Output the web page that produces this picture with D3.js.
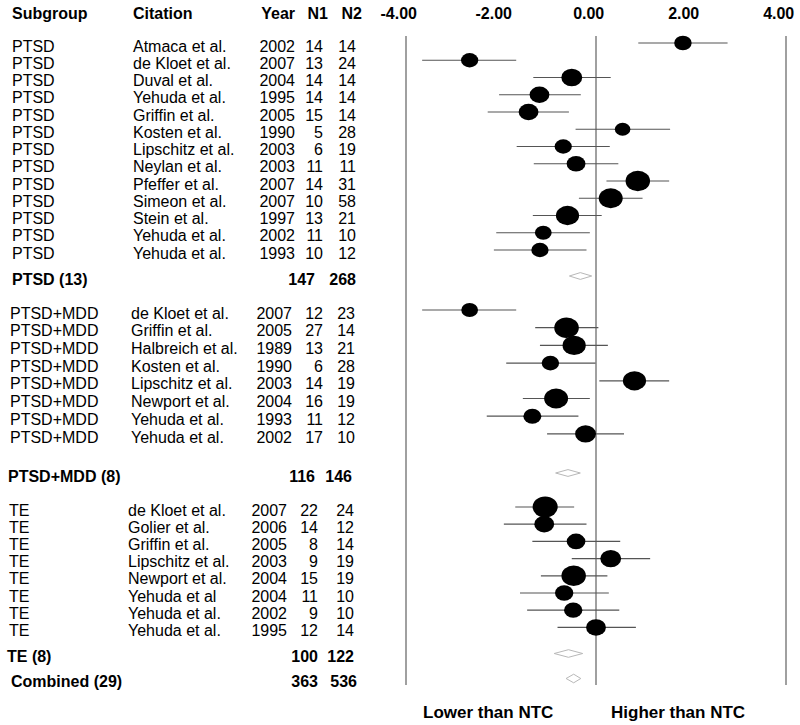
<!DOCTYPE html>
<html>
<head>
<meta charset="utf-8">
<script src="https://cdn.jsdelivr.net/npm/d3@7/dist/d3.min.js"></script>
<style>
  html, body { margin: 0; padding: 0; background: #fff; }
  svg { display: block; font-family: "Liberation Sans", Arial, sans-serif; }
</style>
</head>
<body>
<svg id="chart" width="800" height="725"></svg>
<script>
// ---------------- DATA ----------------
const headers = ["Subgroup", "Citation", "Year", "N1", "N2"];
const groupNames = ["PTSD", "PTSD+MDD", "TE"];

// study rows (grouped in order)
const subgroup = [
  "PTSD","PTSD","PTSD","PTSD","PTSD","PTSD","PTSD","PTSD","PTSD","PTSD","PTSD","PTSD","PTSD",
  "PTSD+MDD","PTSD+MDD","PTSD+MDD","PTSD+MDD","PTSD+MDD","PTSD+MDD","PTSD+MDD","PTSD+MDD",
  "TE","TE","TE","TE","TE","TE","TE","TE"
];
const citation = [
  "Atmaca et al.","de Kloet et al.","Duval et al.","Yehuda et al.","Griffin et al.","Kosten et al.",
  "Lipschitz et al.","Neylan et al.","Pfeffer et al.","Simeon et al.","Stein et al.","Yehuda et al.","Yehuda et al.",
  "de Kloet et al.","Griffin et al.","Halbreich et al.","Kosten et al.","Lipschitz et al.","Newport et al.","Yehuda et al.","Yehuda et al.",
  "de Kloet et al.","Golier et al.","Griffin et al.","Lipschitz et al.","Newport et al.","Yehuda et al","Yehuda et al.","Yehuda et al."
];
const year = [
  2002,2007,2004,1995,2005,1990,2003,2003,2007,2007,1997,2002,1993,
  2007,2005,1989,1990,2003,2004,1993,2002,
  2007,2006,2005,2003,2004,2004,2002,1995
];
const n1 = [14,13,14,14,15,5,6,11,14,10,13,11,10, 12,27,13,6,14,16,11,17, 22,14,8,9,15,11,9,12];
const n2 = [14,24,14,14,14,28,19,11,31,58,21,10,12, 23,14,21,28,19,19,12,10, 24,12,14,19,19,10,10,14];

// standardized effect (hedges g) and 95% CI
const effect = [1.83,-2.66,-0.51,-1.19,-1.42,0.56,-0.69,-0.42,0.88,0.31,-0.60,-1.11,-1.18,
  -2.66,-0.62,-0.46,-0.96,0.81,-0.84,-1.34,-0.22,
  -1.07,-1.09,-0.42,0.31,-0.47,-0.67,-0.48,0.00];
const ciLow = [0.89,-3.66,-1.32,-2.04,-2.28,-0.43,-1.67,-1.31,0.22,-0.36,-1.33,-2.10,-2.15,
  -3.66,-1.28,-1.18,-1.89,0.07,-1.54,-2.30,-1.03,
  -1.70,-1.94,-1.34,-0.51,-1.16,-1.60,-1.45,-0.81];
const ciHigh = [2.77,-1.68,0.31,-0.32,-0.57,1.56,0.29,0.47,1.54,0.98,0.12,-0.13,-0.20,
  -1.68,0.05,0.25,-0.01,1.54,-0.13,-0.37,0.59,
  -0.46,-0.20,0.51,1.14,0.24,0.27,0.49,0.84];
// relative study weights (marker area)
const weight = [4.9,4.8,7.0,6.3,6.3,3.9,4.8,5.7,9.6,9.2,8.6,4.5,4.8,
  4.5,9.7,8.6,4.9,8.6,9.2,5.2,7.0,
  10.1,6.3,5.6,7.0,9.6,5.4,5.4,6.3];

// summary rows
const summaryLabel = ["PTSD (13)", "PTSD+MDD (8)", "TE (8)", "Combined (29)"];
const summaryN1 = [147, 116, 100, 363];
const summaryN2 = [268, 146, 122, 536];
const summaryEst = [-0.33, -0.59, -0.58, -0.47];
const summaryLow = [-0.56, -0.85, -0.88, -0.63];
const summaryHigh = [-0.09, -0.33, -0.28, -0.32];

const tickValues = [-4, -2, 0, 2, 4];
const tickLabels = ["-4.00", "-2.00", "0.00", "2.00", "4.00"];
const refLines = [-4, 0, 4];
const footLabels = ["Lower than NTC", "Higher than NTC"];

// ---------------- LAYOUT ----------------
const svg = d3.select("#chart");
const x = d3.scaleLinear().domain([-4, 4]).range([406, 786]);
const size = d3.scaleSqrt().domain([0, 10]).range([0, 10.4]);

// vertical layout per group: start y, row step
const groupLayout = {
  "PTSD":     { y0: 43,  step: 17.25, sub: 12, cit: 133, yr: 295, a: 323, b: 356 },
  "PTSD+MDD": { y0: 310, step: 17.7,  sub: 10, cit: 131, yr: 292, a: 323, b: 355 },
  "TE":       { y0: 507, step: 17.2,  sub: 9,  cit: 128, yr: 287, a: 318, b: 354 }
};
const summaryLayout = [
  { y: 276,   lx: 12, a: 315, b: 356, h: 3.4 },
  { y: 473,   lx: 8,  a: 315, b: 352, h: 3.4 },
  { y: 653.5, lx: 7,  a: 318, b: 354, h: 3.8 },
  { y: 678.5, lx: 11, a: 318, b: 357, h: 4.3 }
];

const rows = subgroup.map((g, i) => {
  const idx = subgroup.slice(0, i).filter(s => s === g).length;
  const L = groupLayout[g];
  return { i, g, L, y: L.y0 + idx * L.step };
});

const fontSize = 16;
const textDy = 3;

// header
const hdr = svg.append("g").attr("font-weight", "bold").attr("font-size", fontSize);
const hdrPos = [{ x: 12, a: "start" }, { x: 133, a: "start" }, { x: 295, a: "end" }, { x: 328, a: "end" }, { x: 362, a: "end" }];
hdr.selectAll("text").data(headers).join("text")
  .attr("x", (d, i) => hdrPos[i].x).attr("y", 19)
  .attr("text-anchor", (d, i) => hdrPos[i].a)
  .text(d => d);

// axis tick labels
const axisG = svg.append("g");
axisG.selectAll("text").data(tickValues).join("text")
  .attr("x", d => x(d) - 7.3).attr("y", 19)
  .attr("text-anchor", "middle")
  .attr("font-size", fontSize).attr("font-weight", "bold")
  .text((d, i) => tickLabels[i]);

// reference vertical lines
axisG.selectAll("line").data(refLines).join("line")
  .attr("x1", d => x(d)).attr("x2", d => x(d))
  .attr("y1", 36).attr("y2", 685)
  .attr("stroke", "#808080").attr("stroke-width", 1.5);

// study rows text
const tg = svg.append("g").attr("font-size", fontSize).attr("fill", "#000");
const rowG = tg.selectAll("g.row").data(rows).join("g").attr("class", "row");
rowG.append("text").attr("x", d => d.L.sub).attr("y", d => d.y + textDy).attr("dy", "0.35em").text(d => subgroup[d.i]);
rowG.append("text").attr("x", d => d.L.cit).attr("y", d => d.y + textDy).attr("dy", "0.35em").text(d => citation[d.i]);
rowG.append("text").attr("x", d => d.L.yr).attr("y", d => d.y + textDy).attr("dy", "0.35em").attr("text-anchor", "end").text(d => year[d.i]);
rowG.append("text").attr("x", d => d.L.a).attr("y", d => d.y + textDy).attr("dy", "0.35em").attr("text-anchor", "end").text(d => n1[d.i]);
rowG.append("text").attr("x", d => d.L.b).attr("y", d => d.y + textDy).attr("dy", "0.35em").attr("text-anchor", "end").text(d => n2[d.i]);

// CI lines and markers
const pg = svg.append("g");
pg.selectAll("line.ci").data(rows).join("line").attr("class", "ci")
  .attr("x1", d => x(ciLow[d.i])).attr("x2", d => x(ciHigh[d.i]))
  .attr("y1", d => d.y).attr("y2", d => d.y)
  .attr("stroke", "#555").attr("stroke-width", 1.2);
pg.selectAll("ellipse").data(rows).join("ellipse")
  .attr("cx", d => x(effect[d.i])).attr("cy", d => d.y)
  .attr("rx", d => size(weight[d.i]) * 1.2).attr("ry", d => size(weight[d.i]))
  .attr("fill", "#000");

// summary rows
const sg = svg.append("g");
const sumRows = summaryLabel.map((s, i) => ({ i, L: summaryLayout[i] }));
const sumT = sg.selectAll("g.sum").data(sumRows).join("g").attr("class", "sum")
  .attr("font-size", fontSize).attr("font-weight", "bold");
sumT.append("text").attr("x", d => d.L.lx).attr("y", d => d.L.y + textDy).attr("dy", "0.35em").text(d => summaryLabel[d.i]);
sumT.append("text").attr("x", d => d.L.a).attr("y", d => d.L.y + textDy).attr("dy", "0.35em").attr("text-anchor", "end").text(d => summaryN1[d.i]);
sumT.append("text").attr("x", d => d.L.b).attr("y", d => d.L.y + textDy).attr("dy", "0.35em").attr("text-anchor", "end").text(d => summaryN2[d.i]);
sg.selectAll("polygon").data(sumRows).join("polygon")
  .attr("points", d => {
    const y = d.L.y, h = d.L.h;
    return [[x(summaryLow[d.i]), y], [x(summaryEst[d.i]), y - h], [x(summaryHigh[d.i]), y], [x(summaryEst[d.i]), y + h]]
      .map(p => p.join(",")).join(" ");
  })
  .attr("fill", "#fff").attr("stroke", "#b8b8b8").attr("stroke-width", 1);

// footer labels
svg.append("g").selectAll("text").data(footLabels).join("text")
  .attr("x", (d, i) => i === 0 ? 423 : 611).attr("y", 712).attr("dy", "0.35em")
  .attr("font-size", 17).attr("font-weight", "bold")
  .text(d => d);
</script>
</body>
</html>
